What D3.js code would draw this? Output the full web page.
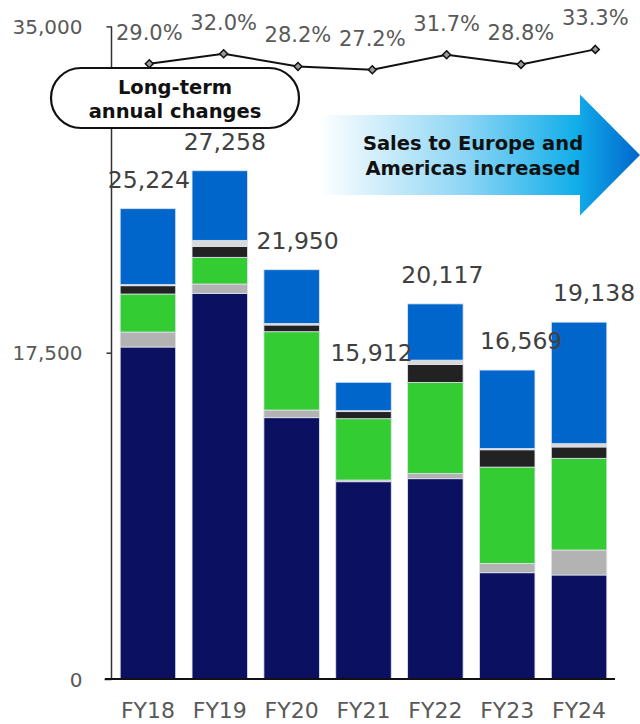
<!DOCTYPE html>
<html>
<head>
<meta charset="utf-8">
<script src="https://cdn.jsdelivr.net/npm/d3@7"></script>
<style>
  html, body { margin: 0; padding: 0; background: #fff; }
  svg { display: block; font-family: "DejaVu Sans", Verdana, sans-serif; }
  svg text { font-family: "DejaVu Sans", Verdana, sans-serif; }
</style>
</head>
<body>
<svg id="chart" width="640" height="724"></svg>
<script>
// Fiscal years
const years = ["FY18", "FY19", "FY20", "FY21", "FY22", "FY23", "FY24"];

// Stacked segments, bottom to top
const navySeg  = [17805, 20685, 14015, 10580, 10742, 5700, 5578];
const greySeg  = [804, 500, 410, 90, 285, 500, 1341];
const greenSeg = [2038, 1430, 4200, 3290, 4880, 5165, 4917];
const blackSeg = [445, 590, 360, 380, 965, 928, 608];
const lightSeg = [60, 320, 80, 50, 230, 70, 177];
const blueSeg  = [4072, 3733, 2885, 1522, 3015, 4206, 6517];

// Ratio line (%)
const ratios = [29.0, 32.0, 28.2, 27.2, 31.7, 28.8, 33.3];

// Axis ticks
const yTicks = [0, 17500, 35000];

const seriesKeys = ["navy", "grey", "green", "black", "light", "blue"];
const seriesColors = {
  navy: "#0b1160", grey: "#b3b3b3", green: "#33cc33",
  black: "#222222", light: "#d9d9d9", blue: "#0066cc"
};

const rows = years.map((y, i) => ({
  year: y,
  navy: navySeg[i], grey: greySeg[i], green: greenSeg[i],
  black: blackSeg[i], light: lightSeg[i], blue: blueSeg[i]
}));
const totals = rows.map(r => seriesKeys.reduce((s, k) => s + r[k], 0));

const FONT = '"DejaVu Sans", Verdana, sans-serif';
const svg = d3.select("#chart");

const x = d3.scaleBand().domain(years).range([112, 615])
  .paddingInner(0.228).paddingOuter(0.114);
const y = d3.scaleLinear().domain([0, 35000]).range([679, 26.4]);

// Ratio line uses its own horizontal spread
const xr = d3.scalePoint().domain(years).range([149.3, 595.3]);
const yr = d3.scaleLinear().domain([20, 40]).range([93.8, 27.0]);

// Stacked bars
const stack = d3.stack().keys(seriesKeys)(rows);
svg.append("g").selectAll("g").data(stack).join("g")
  .attr("fill", d => seriesColors[d.key])
  .selectAll("rect").data(d => d).join("rect")
  .attr("x", d => x(d.data.year))
  .attr("y", d => y(d[1]))
  .attr("width", x.bandwidth())
  .attr("height", d => y(d[0]) - y(d[1]))
  .attr("stroke", "#dfe3ee")
  .attr("stroke-width", 0.8);

// Y axis
const yAxis = svg.append("g").attr("transform", "translate(111.5,0)")
  .call(d3.axisLeft(y).tickValues(yTicks).tickSize(5).tickPadding(24)
    .tickFormat(d3.format(",")))
  .attr("font-family", FONT);
yAxis.select(".domain").attr("stroke", "#333").attr("stroke-width", 1.5)
  .attr("d", `M0,${y(35000)}V${y(0)}`);
yAxis.selectAll(".tick line").attr("stroke", "#333").attr("stroke-width", 1.5);
yAxis.selectAll(".tick text").attr("fill", "#595959")
  .style("font-size", "20px").attr("dy", "0.36em");
yAxis.selectAll(".tick").filter(d => d === 0).select("line").attr("x2", -7);

// X axis
const xAxis = svg.append("g").attr("transform", `translate(0,${y(0)})`)
  .call(d3.axisBottom(x).tickSize(0).tickPadding(0))
  .attr("font-family", FONT);
xAxis.select(".domain").attr("stroke", "#111").attr("stroke-width", 2)
  .attr("d", "M105,0H615");
xAxis.selectAll(".tick text").attr("fill", "#595959")
  .style("font-size", "22px").attr("dy", null).attr("y", 39);

// Total labels
const labelNudge = [1, 5, 6, 8, 7, 14, 15];
svg.append("g").selectAll("text").data(totals).join("text")
  .attr("x", (d, i) => x(years[i]) + x.bandwidth() / 2 + labelNudge[i])
  .attr("y", d => y(d) - 21)
  .attr("text-anchor", "middle")
  .attr("fill", "#404040")
  .style("font-size", "23.5px")
  .text(d => d3.format(",")(d));

// Long-term badge
const badge = svg.append("g");
badge.append("rect")
  .attr("x", 51).attr("y", 68).attr("width", 248).attr("height", 60)
  .attr("rx", 30).attr("ry", 30)
  .attr("fill", "#fff").attr("stroke", "#111").attr("stroke-width", 2.2);
badge.append("text").attr("x", 175).attr("y", 94)
  .attr("text-anchor", "middle").attr("font-weight", "bold")
  .style("font-size", "19.5px").attr("fill", "#111").text("Long-term");
badge.append("text").attr("x", 175).attr("y", 118)
  .attr("text-anchor", "middle").attr("font-weight", "bold")
  .style("font-size", "19.5px").attr("fill", "#111").text("annual changes");

// Ratio line
const lineData = ratios.map((v, i) => ({ year: years[i], v }));
svg.append("path").datum(lineData)
  .attr("fill", "none").attr("stroke", "#111").attr("stroke-width", 2)
  .attr("d", d3.line().x(d => xr(d.year)).y(d => yr(d.v)));
svg.append("g").selectAll("path").data(lineData).join("path")
  .attr("d", d3.symbol(d3.symbolDiamond2, 40))
  .attr("transform", d => `translate(${xr(d.year)},${yr(d.v)})`)
  .attr("fill", "#999").attr("stroke", "#111").attr("stroke-width", 1.5);
svg.append("g").selectAll("text").data(lineData).join("text")
  .attr("x", d => xr(d.year))
  .attr("y", d => yr(d.v) - 24)
  .attr("text-anchor", "middle")
  .attr("fill", "#595959")
  .style("font-size", "21px")
  .text(d => d.v.toFixed(1) + "%");

// Gradient arrow
const defs = svg.append("defs");
const grad = defs.append("linearGradient").attr("id", "arrowGrad")
  .attr("gradientUnits", "userSpaceOnUse")
  .attr("x1", 318).attr("y1", 0).attr("x2", 640).attr("y2", 0);
grad.append("stop").attr("offset", "0%").attr("stop-color", "#ffffff");
grad.append("stop").attr("offset", "45%").attr("stop-color", "#8fd6f5");
grad.append("stop").attr("offset", "80%").attr("stop-color", "#12aeea");
grad.append("stop").attr("offset", "100%").attr("stop-color", "#0066cc");

svg.append("path")
  .attr("d", "M318,115H580V94.5L640,155L580,215.5V195H318Z")
  .attr("fill", "url(#arrowGrad)");
svg.append("text").attr("x", 473).attr("y", 150)
  .attr("text-anchor", "middle").attr("font-weight", "bold")
  .style("font-size", "19.5px").attr("fill", "#111").text("Sales to Europe and");
svg.append("text").attr("x", 473).attr("y", 175)
  .attr("text-anchor", "middle").attr("font-weight", "bold")
  .style("font-size", "19.5px").attr("fill", "#111").text("Americas increased");
</script>
</body>
</html>
